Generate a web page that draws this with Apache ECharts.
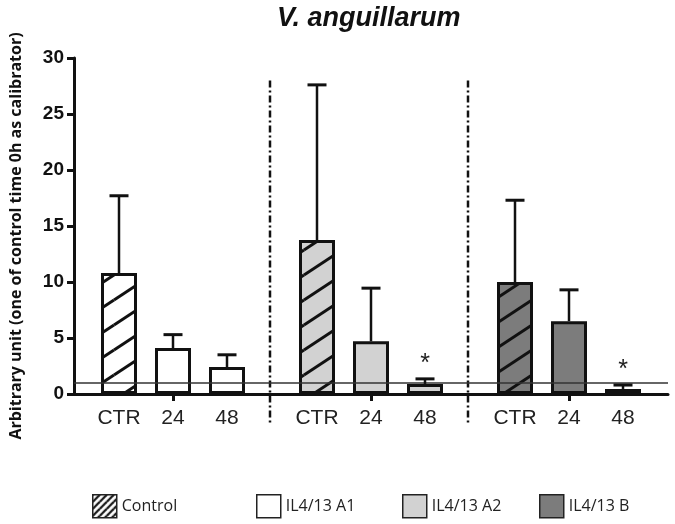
<!DOCTYPE html>
<html><head><meta charset="utf-8">
<script src="https://cdn.jsdelivr.net/npm/echarts@6/dist/echarts.min.js"></script>
<style>html,body{margin:0;padding:0;background:#fff}#c{width:675px;height:524px}</style>
</head><body><div id="c"></div>
<script>
// ---- data ----
const chartTitle = 'V. anguillarum';
const yAxisName = 'Arbitrary unit (one of control time 0h as calibrator)';
const controlName = 'Control';
const groupNames = ['IL4/13 A1', 'IL4/13 A2', 'IL4/13 B'];
const timeLabels = ['CTR', '24', '48'];
const meansA1 = [10.8, 4.1, 2.4];
const sdA1 = [6.9, 1.2, 1.1];
const meansA2 = [13.75, 4.7, 0.9];
const sdA2 = [13.85, 4.75, 0.45];
const meansB = [10.0, 6.5, 0.45];
const sdB = [7.3, 2.8, 0.35];
const sigA1 = [false, false, false];
const sigA2 = [false, false, true];
const sigB = [false, false, true];
const yMin = 0, yMax = 30, yStep = 5;
const referenceLevel = 1;
const dividerTop = 28;

// ---- layout helpers ----
const slotCount = 33, firstSlot = 2, groupStride = 11, itemStride = 3;
const slotOf = (g, t) => firstSlot + g * groupStride + t * itemStride;
const groupFills = ['#ffffff', '#d2d2d2', '#7c7c7c'];
const means = [meansA1, meansA2, meansB];
const sds = [sdA1, sdA2, sdB];
const sigs = [sigA1, sigA2, sigB];

function makeHatch(bg, W, H, lw) {
  const c = document.createElement('canvas');
  c.width = W; c.height = H;
  const ctx = c.getContext('2d');
  ctx.fillStyle = bg; ctx.fillRect(0, 0, W, H);
  ctx.strokeStyle = '#111'; ctx.lineWidth = lw;
  [[0,0],[-W,0],[W,0],[0,-H],[0,H]].forEach(([dx, dy]) => {
    ctx.beginPath(); ctx.moveTo(dx, H + dy); ctx.lineTo(W + dx, dy); ctx.stroke();
  });
  return c;
}
const hatch = bg => ({ image: makeHatch(bg, 38, 25, 3), repeat: 'repeat' });
const legendHatch = { image: makeHatch('#ffffff', 7, 7, 2.2), repeat: 'repeat' };

const slotIds = Array.from({ length: slotCount }, (_, i) => 's' + i);
const slotLabels = Array.from({ length: slotCount }, () => '');
groupNames.forEach((g, gi) => timeLabels.forEach((l, ti) => { slotLabels[slotOf(gi, ti)] = l; }));
const tickSlots = groupNames.map((g, gi) => slotOf(gi, 1));

const emptyRow = () => Array.from({ length: slotCount }, () => '-');
const controlData = emptyRow();
groupNames.forEach((g, gi) => {
  controlData[slotOf(gi, 0)] = { value: means[gi][0], itemStyle: { color: hatch(groupFills[gi]) } };
});
const groupSeries = groupNames.map((name, gi) => {
  const d = emptyRow();
  for (let t = 1; t < timeLabels.length; t++) d[slotOf(gi, t)] = means[gi][t];
  return {
    name, type: 'bar', data: d, barWidth: 36, barGap: '-100%',
    itemStyle: { color: groupFills[gi], borderColor: '#111', borderWidth: 3 }
  };
});
const errData = [];
groupNames.forEach((g, gi) => timeLabels.forEach((l, ti) => {
  errData.push([slotOf(gi, ti), means[gi][ti], means[gi][ti] + sds[gi][ti], sigs[gi][ti] ? 1 : 0]);
}));
const dividerData = [];
for (let gi = 0; gi < groupNames.length - 1; gi++) {
  dividerData.push([slotOf(gi, timeLabels.length - 1), slotOf(gi + 1, 0), 0]);
}

const FONT = 'Liberation Sans';
const chart = echarts.init(document.getElementById('c'));
chart.setOption({
  animation: false,
  backgroundColor: '#fff',
  title: {
    text: chartTitle, left: 272, top: 0,
    textStyle: { fontFamily: FONT, fontSize: 27, fontWeight: 'bold', fontStyle: 'italic', color: '#111' }
  },
  grid: { left: 70, right: 7, top: 58, bottom: 130, containLabel: false },
  xAxis: {
    type: 'category', data: slotIds, boundaryGap: true,
    axisLine: { lineStyle: { color: '#111', width: 3 } },
    axisTick: { show: true, alignWithLabel: true, length: 7, interval: (i) => tickSlots.includes(i), lineStyle: { color: '#111', width: 3 } },
    axisLabel: { interval: 0, formatter: (v, i) => slotLabels[i], fontFamily: FONT, fontSize: 21, color: '#222', margin: 14 },
    splitLine: { show: false }
  },
  yAxis: {
    type: 'value', min: yMin, max: yMax, interval: yStep,
    name: yAxisName, nameLocation: 'middle', nameRotate: 90, nameGap: 50,
    nameTextStyle: { fontFamily: 'Open Sans', fontSize: 16, fontWeight: 'bold', color: '#111', padding: [0, 20, 0, 0] },
    axisLine: { show: true, lineStyle: { color: '#111', width: 3 } },
    axisTick: { show: true, length: 7, lineStyle: { color: '#111', width: 3 } },
    axisLabel: { fontFamily: FONT, fontSize: 19, fontWeight: 'bold', color: '#111', margin: 10 },
    splitLine: { show: false }
  },
  legend: [
    { name: controlName, left: 92 },
    { name: groupNames[0], left: 256 },
    { name: groupNames[1], left: 402 },
    { name: groupNames[2], left: 539 }
  ].map((it, k) => ({
    left: it.left, top: 494, padding: 0, orient: 'horizontal', icon: 'rect',
    itemWidth: 24, itemHeight: 23,
    data: [k === 0 ? { name: it.name, itemStyle: { color: legendHatch } } : { name: it.name }],
    itemStyle: { borderColor: '#222', borderWidth: 1.5 },
    textStyle: { fontFamily: 'Open Sans', fontSize: 16, color: '#222' },
    selectedMode: false
  })),
  series: [
    {
      name: controlName, type: 'bar', data: controlData, barWidth: 36, barGap: '-100%',
      itemStyle: { color: hatch('#ffffff'), borderColor: '#111', borderWidth: 3 }
    },
    ...groupSeries,
    {
      name: 'errors', type: 'custom', z: 5, data: errData,
      encode: { x: 0, y: [1, 2] },
      renderItem: (params, api) => {
        const x = api.value(0), m = api.value(1), top = api.value(2), s = api.value(3);
        const p0 = api.coord([x, m]), p1 = api.coord([x, top]);
        const half = 9.5;
        const children = [
          { type: 'line', shape: { x1: p0[0], y1: p0[1], x2: p1[0], y2: p1[1] }, style: { stroke: '#111', lineWidth: 2.5 } },
          { type: 'line', shape: { x1: p1[0] - half, y1: p1[1], x2: p1[0] + half, y2: p1[1] }, style: { stroke: '#111', lineWidth: 3 } }
        ];
        if (s) children.push({ type: 'text', x: p1[0], y: p1[1] - 15, style: { text: '*', fontSize: 25, fontFamily: FONT, fill: '#222', align: 'center', verticalAlign: 'middle' } });
        return { type: 'group', children };
      },
      markLine: {
        silent: true, symbol: 'none', label: { show: false },
        lineStyle: { color: '#333', width: 1.5, type: 'solid' },
        data: [{ yAxis: referenceLevel }]
      }
    },
    {
      name: 'dividers', type: 'custom', z: 4, data: dividerData,
      encode: { x: [0, 1], y: 2 },
      renderItem: (params, api) => {
        const a = api.coord([api.value(0), 0]), b = api.coord([api.value(1), 0]);
        const x = (a[0] + b[0]) / 2 - 2;
        const yTop = api.coord([api.value(0), dividerTop])[1];
        return { type: 'line', shape: { x1: x, y1: yTop, x2: x, y2: a[1] + 29 }, style: { stroke: '#111', lineWidth: 2.5, lineDash: [7, 3, 2, 3] } };
      }
    }
  ]
});
</script></body></html>
